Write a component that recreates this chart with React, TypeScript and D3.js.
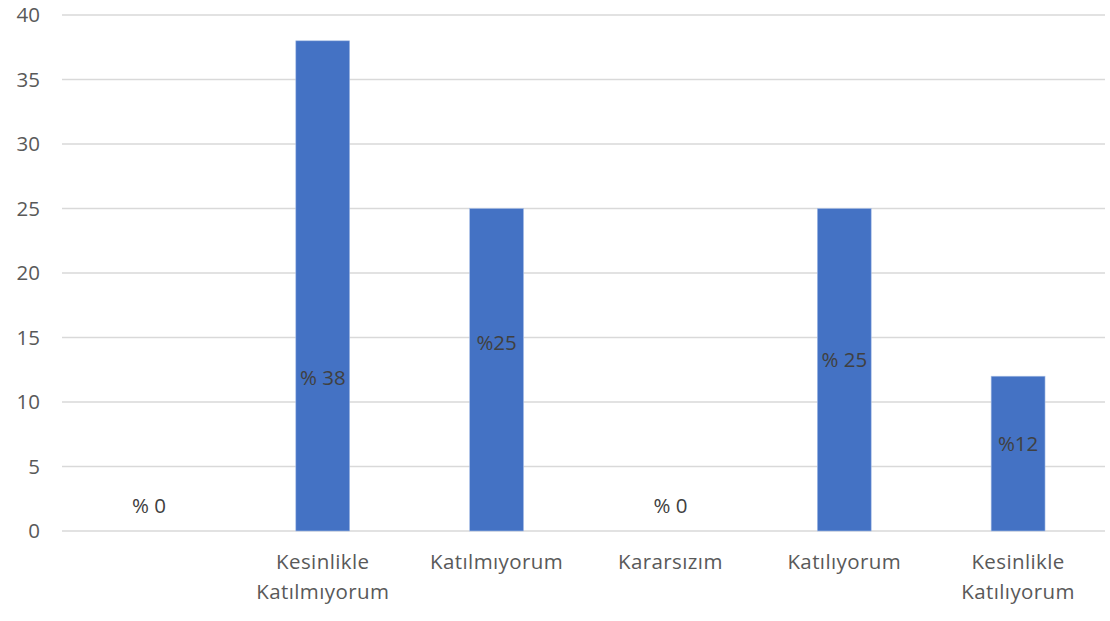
import React from 'react';
import * as d3 from 'd3';

// categories (first one is blank in the source chart)
const categories = ['c0', 'c1', 'c2', 'c3', 'c4', 'c5'];
const categoryLines: string[][] = [
  [],
  ['Kesinlikle', 'Katılmıyorum'],
  ['Katılmıyorum'],
  ['Kararsızım'],
  ['Katılıyorum'],
  ['Kesinlikle', 'Katılıyorum'],
];
const values = [0, 38, 25, 0, 25, 12];
const dataLabels = ['% 0', '% 38', '%25', '% 0', '% 25', '%12'];
// where each data label sits, in value units (placed by hand in the original)
const labelAt = [1.95, 11.85, 14.55, 1.95, 13.3, 6.75];
const yTicks = [0, 5, 10, 15, 20, 25, 30, 35, 40];

const W = 1110;
const H = 621;
const margin = { top: 15, right: 5, bottom: 90, left: 62 };
const FONT = '"Open Sans", sans-serif';
const FS = 20.5;

export default function App() {
  const innerH = H - margin.top - margin.bottom;

  const x = d3.scaleBand<string>()
    .domain(categories)
    .range([margin.left, W - margin.right])
    .paddingInner(0.69)
    .paddingOuter(0.345);

  const y = d3.scaleLinear()
    .domain([0, 40])
    .range([margin.top + innerH, margin.top]);

  return (
    <svg width={W} height={H} style={{ position: 'absolute', left: 0, top: 0, background: '#fff' }}>
      {/* gridlines */}
      {yTicks.map(t => (
        <line
          key={t}
          x1={margin.left}
          x2={W - margin.right}
          y1={y(t)}
          y2={y(t)}
          stroke="#d9d9d9"
          strokeWidth={1.3}
        />
      ))}
      {/* y tick labels */}
      {yTicks.map(t => (
        <text
          key={'l' + t}
          x={40}
          y={y(t)}
          dy="0.35em"
          textAnchor="end"
          fontFamily={FONT}
          fontSize={FS}
          fill="#595959"
        >
          {t}
        </text>
      ))}
      {/* bars */}
      {categories.map((c, i) => (
        values[i] > 0 ? (
          <rect
            key={c}
            x={x(c)!}
            y={y(values[i])}
            width={x.bandwidth()}
            height={y(0) - y(values[i])}
            fill="#4472c4"
            stroke="#a9bfe6"
            strokeWidth={0.6}
          />
        ) : null
      ))}
      {/* data labels */}
      {categories.map((c, i) => (
        <text
          key={'d' + c}
          x={x(c)! + x.bandwidth() / 2}
          y={y(labelAt[i])}
          dy="0.35em"
          textAnchor="middle"
          fontFamily={FONT}
          fontSize={FS}
          fill="#404040"
        >
          {dataLabels[i]}
        </text>
      ))}
      {/* category labels */}
      {categories.map((c, i) => (
        <text
          key={'c' + c}
          x={x(c)! + x.bandwidth() / 2}
          y={y(0) + 31}
          textAnchor="middle"
          fontFamily={FONT}
          fontSize={FS}
          letterSpacing={0.4}
          fill="#595959"
        >
          {categoryLines[i].map((line, j) => (
            <tspan key={j} x={x(c)! + x.bandwidth() / 2} dy={j === 0 ? '0.35em' : 30}>
              {line}
            </tspan>
          ))}
        </text>
      ))}
    </svg>
  );
}
